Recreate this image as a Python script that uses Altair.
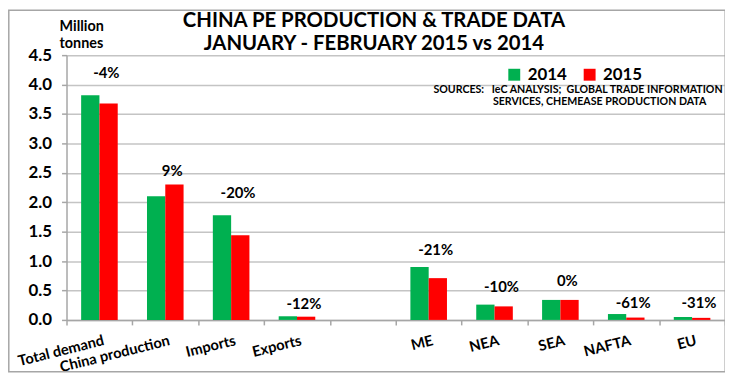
import altair as alt
import pandas as pd

categories = ["Total demand", "China production", "Imports", "Exports", " ",
              "ME", "NEA", "SEA", "NAFTA", "EU"]
groups = ["Total demand", "China production", "Imports", "Exports",
          "ME", "NEA", "SEA", "NAFTA", "EU"]
years = ["2014", "2015"]
values_2014 = [3.82, 2.10, 1.78, 0.062, 0.90, 0.26, 0.34, 0.10, 0.05]
values_2015 = [3.68, 2.30, 1.44, 0.055, 0.71, 0.23, 0.34, 0.04, 0.035]
pct_labels = ["-4%", "9%", "-20%", "-12%", "-21%", "-10%", "0%", "-61%", "-31%"]
pct_label_y = [4.19, 2.53, 2.15, 0.27, 1.18, 0.56, 0.66, 0.28, 0.28]
y_ticks = [0.0, 0.5, 1.0, 1.5, 2.0, 2.5, 3.0, 3.5, 4.0, 4.5]

title_lines = ["CHINA PE PRODUCTION & TRADE DATA", "JANUARY - FEBRUARY 2015 vs 2014"]
unit_lines = ["Million", "tonnes"]
NB = "\u00a0"
source_lines = ["SOURCES:" + NB * 3 + "IeC ANALYSIS;" + NB * 2 + "GLOBAL TRADE INFORMATION",
                "SERVICES, CHEMEASE PRODUCTION DATA"]

FONT = "Lato"
W, H = 664, 267

rows = []
for g, a, b in zip(groups, values_2014, values_2015):
    rows.append({"cat": g, "year": years[0], "value": a})
    rows.append({"cat": g, "year": years[1], "value": b})
bars_df = pd.DataFrame(rows)
labels_df = pd.DataFrame({"cat": groups, "label": pct_labels, "ly": pct_label_y})
one = pd.DataFrame({"a": [0]})

xscale = alt.Scale(domain=categories, paddingInner=0, paddingOuter=0)
yscale = alt.Scale(domain=[0, 4.5], nice=False)

x_axis = alt.Axis(title=None, labelAngle=-14, labelAlign="right", labelBaseline="top",
                  tickBand="extent", tickSize=5, labelPadding=8, labelFont=FONT,
                  labelFontWeight="bold", labelFontSize=14.8, labelColor="black",
                  labelOffset=2,
                  domainColor="#a6a6a6", tickColor="#a6a6a6", domainWidth=1.5,
                  tickWidth=1.5, labelOverlap=False, labelBound=False)
y_axis = alt.Axis(title=None, values=y_ticks, format=".1f", tickSize=5, tickColor="#a6a6a6",
                  tickWidth=1.5, labelPadding=10, labelOverlap=False,
                  labelFont=FONT, labelFontWeight="bold", labelFontSize=17,
                  labelColor="black", domainColor="#a6a6a6", domainWidth=1.5,
                  gridColor="#c4c4c4", gridWidth=1.5)

bars = alt.Chart(bars_df).mark_bar(strokeWidth=0).encode(
    x=alt.X("cat:N", scale=xscale, sort=categories, axis=x_axis),
    xOffset=alt.XOffset("year:N", sort=years, scale=alt.Scale(paddingOuter=0.8, paddingInner=0)),
    y=alt.Y("value:Q", scale=yscale, axis=y_axis),
    color=alt.Color("year:N", sort=years,
                    scale=alt.Scale(domain=years, range=["#00b050", "#ff0000"]),
                    legend=alt.Legend(title=None, orient="none", legendX=443, legendY=11,
                                      direction="horizontal", symbolType="square",
                                      symbolSize=144, symbolStrokeWidth=0,
                                      labelFont=FONT, labelFontWeight="bold",
                                      labelFontSize=17, labelColor="black",
                                      labelOffset=5, columnPadding=14)),
)

pct = alt.Chart(labels_df).mark_text(font=FONT, fontWeight="bold", fontSize=15,
                                     color="black", baseline="middle", dx=7).encode(
    x=alt.X("cat:N", scale=xscale, sort=categories, axis=x_axis),
    y=alt.Y("ly:Q", scale=yscale, axis=y_axis),
    text="label:N",
)

def txt(s, x, y, size, align="left"):
    return alt.Chart(one).mark_text(text=s, font=FONT, fontWeight="bold", fontSize=size,
                                    color="black", align=align,
                                    baseline="alphabetic").encode(
        x=alt.value(x), y=alt.value(y))

texts = [
    txt(title_lines[0], 310, -28.6, 20.5, "center"),
    txt(title_lines[1], 310, -5.6, 20.5, "center"),
    txt(unit_lines[0], -7, -24.6, 14.5),
    txt(unit_lines[1], -7, -7.6, 14.5),
    txt(source_lines[0], 370, 38.4, 10.7),
    txt(source_lines[1], 430, 50.4, 10.7),
]

frame = alt.Chart(one).mark_rect(fillOpacity=0, stroke="#a6a6a6", strokeWidth=1.5).encode(
    x=alt.value(-58.2), x2=alt.value(W + 0.2), y=alt.value(-45.2), y2=alt.value(H + 52.2))

chart = alt.layer(frame, bars, pct, *texts).properties(
    width=W, height=H,
    autosize=alt.AutoSizeParams(type="none"),
    padding={"left": 59, "top": 46, "right": 0, "bottom": 53},
    background="white",
).configure_view(stroke=None)

chart.save("out.html", embed_options={"renderer": "svg", "actions": False})
